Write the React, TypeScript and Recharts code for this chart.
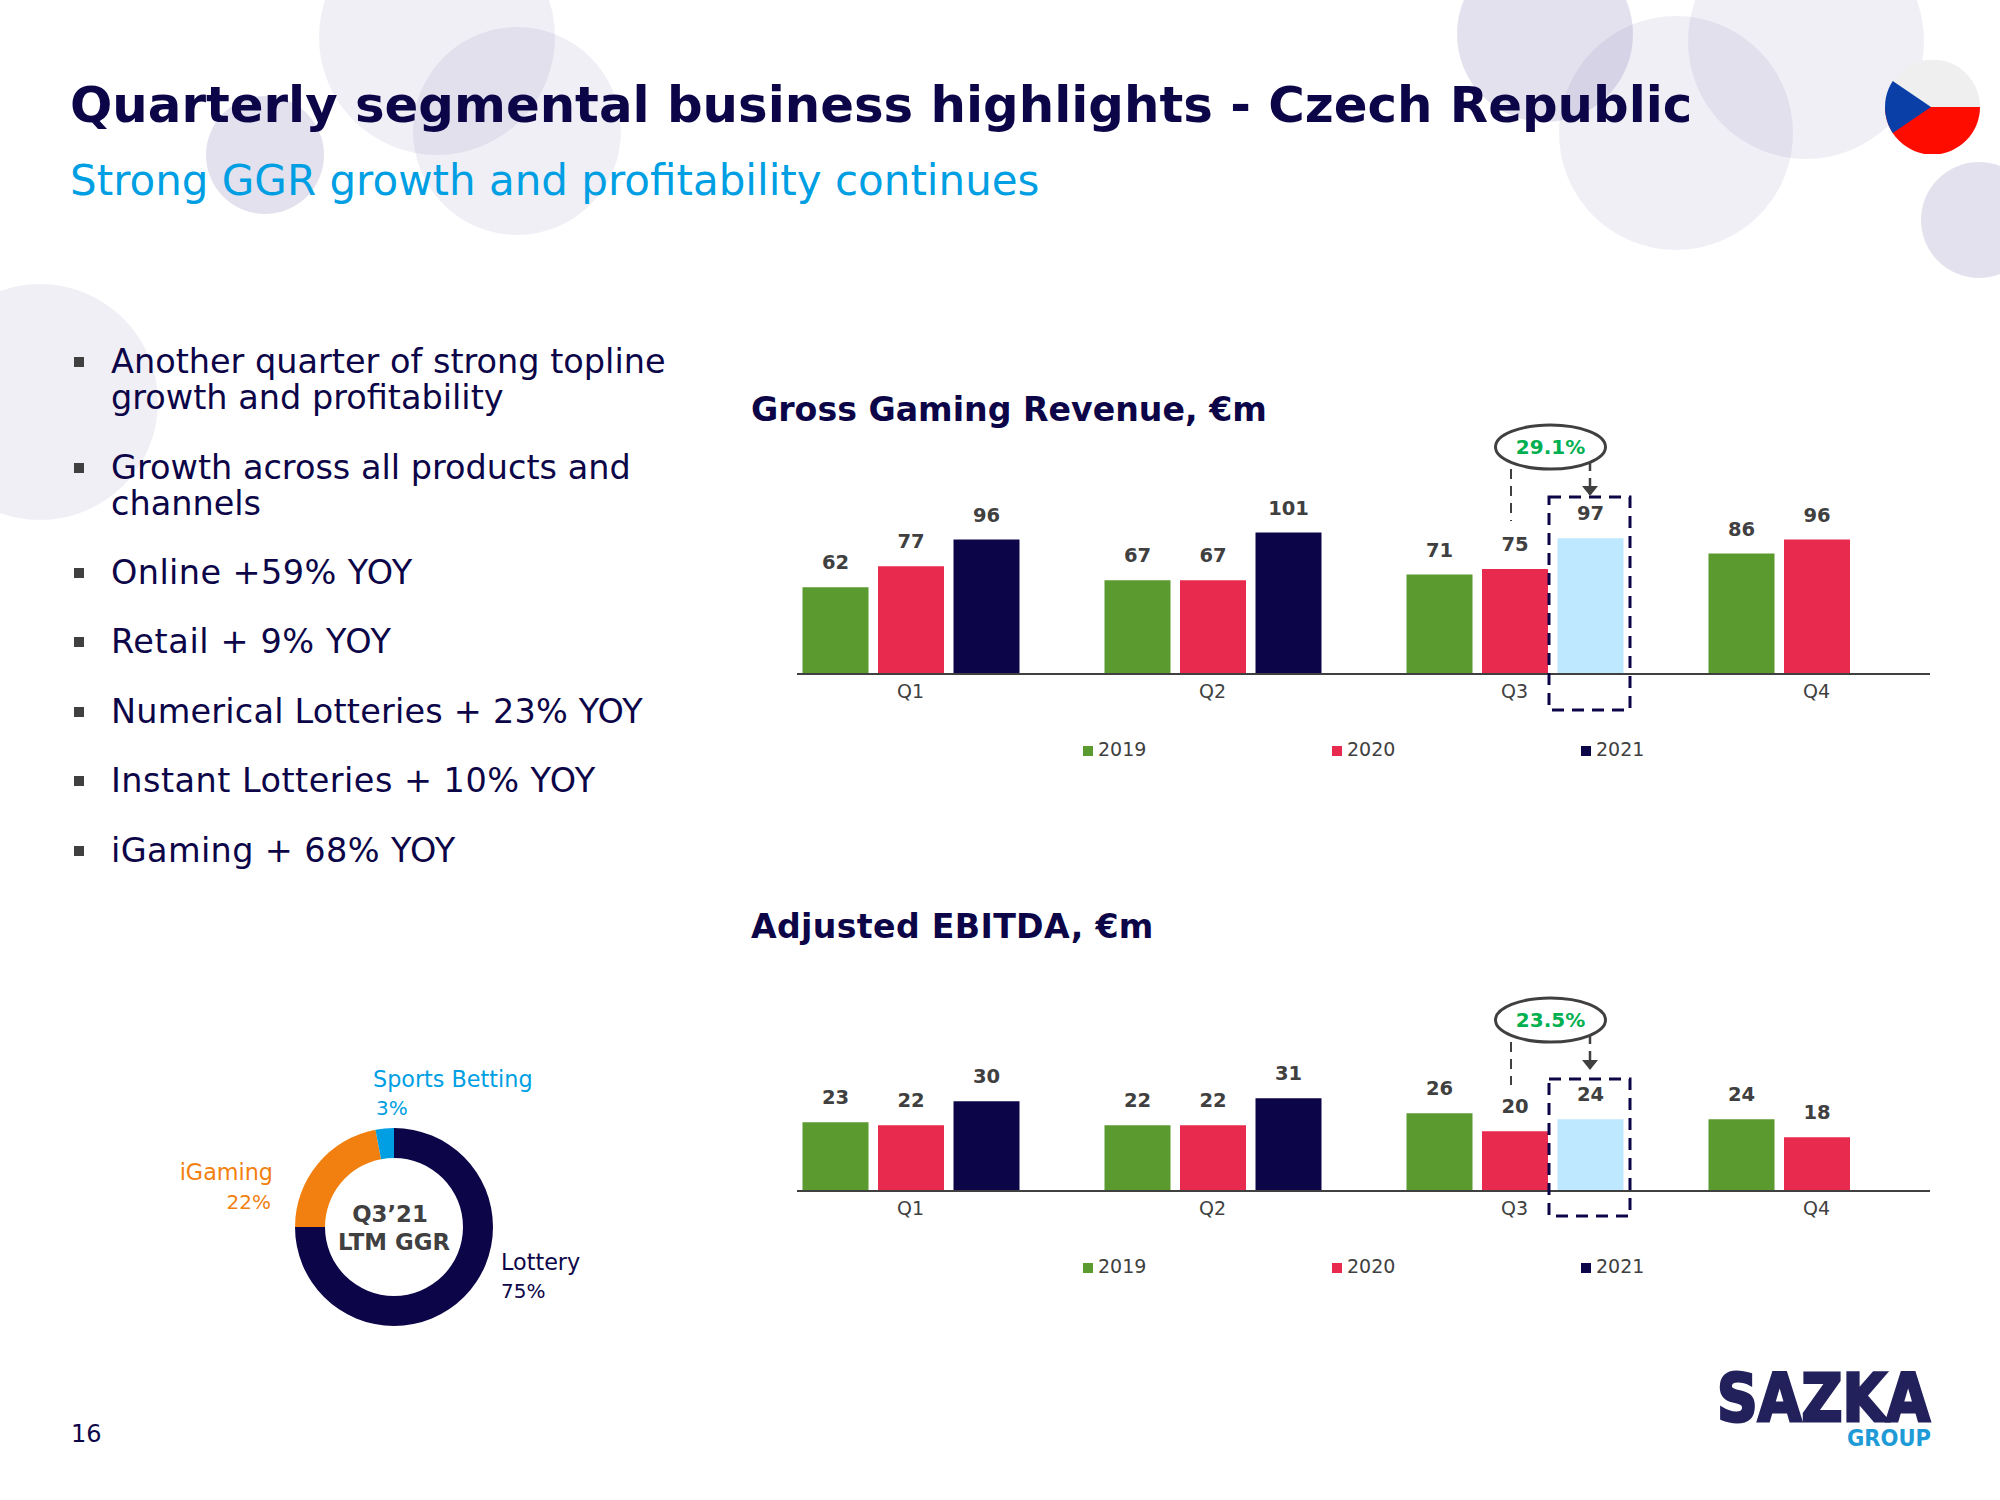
import { BarChart, Bar, Cell, LabelList, Legend, PieChart, Pie, XAxis, YAxis } from "recharts";

const quarters = ["Q1", "Q2", "Q3", "Q4"];
const years = ["2019", "2020", "2021"];

const ggr2019 = [62, 67, 71, 86];
const ggr2020 = [77, 67, 75, 96];
const ggr2021 = [96, 101, 97, null];

const ebitda2019 = [23, 22, 26, 24];
const ebitda2020 = [22, 22, 20, 18];
const ebitda2021 = [30, 31, 24, null];

const mixNames = ["Lottery", "iGaming", "Sports Betting"];
const mixValues = [75, 22, 3];

const bullets = [
  "Another quarter of strong topline",
  "growth and profitability",
  "Growth across all products and",
  "channels",
  "Online +59% YOY",
  "Retail + 9% YOY",
  "Numerical Lotteries + 23% YOY",
  "Instant Lotteries + 10% YOY",
  "iGaming + 68% YOY",
];
const bulletY = [362, 398, 468, 504, 573, 642, 712, 781, 851];
const bulletMarks = [true, false, true, false, true, true, true, true, true];
// caps and digits run wider in the original face
const bulletTrack = [0, 0, 0, 0, 0.4, 0.6, 0.2, 0.47, 0.37];

const NAVY = "#0C0648";
const GREEN = "#5A9A2F";
const RED = "#E82A4E";
const SKY = "#BDE8FF";
const BLUE = "#009FE3";
const ORANGE = "#F28010";
const GREY = "#404040";
const TINT = "#44378F";
const FONT = "'DejaVu Sans', Verdana, sans-serif";

const toRows = (a: (number | null)[], b: (number | null)[], c: (number | null)[]) =>
  quarters.map((q, i) => ({ q, y2019: a[i], y2020: b[i], y2021: c[i] }));

const ggrRows = toRows(ggr2019, ggr2020, ggr2021);
const ebitdaRows = toRows(ebitda2019, ebitda2020, ebitda2021);
const mixRows = mixNames.map((name, i) => ({ name, value: mixValues[i] }));
const mixColors = [NAVY, ORANGE, BLUE];

// legend items sit on a wide fixed pitch, not what the default legend does
const renderLegend = (props: any) => (
  <div style={{ position: "relative", width: 1133, height: 60, fontFamily: FONT, fontSize: 19, color: GREY }}>
    {(props.payload || []).map((p: any, i: number) => (
      <div key={p.value} style={{ position: "absolute", left: 286 + i * 249, top: 35, lineHeight: "20px", whiteSpace: "nowrap" }}>
        <span style={{ display: "inline-block", width: 10, height: 10, background: p.color, marginRight: 5 }} />
        {p.value}
      </div>
    ))}
  </div>
);

function QuarterChart({ rows, top, plotHeight, max }: { rows: any[]; top: number; plotHeight: number; max: number }) {
  const labelStyle = { fontFamily: FONT, fontSize: 19.5, fontWeight: 700, fill: GREY };
  return (
    <div style={{ position: "absolute", left: 797, top }}>
      <BarChart
        width={1133}
        height={plotHeight + 90}
        data={rows}
        barSize={66}
        barGap={9.5}
        margin={{ top: 0, right: 0, bottom: 0, left: 0 }}
      >
        <XAxis
          dataKey="q"
          height={30}
          padding={{ left: -37.5, right: -37.5 }}
          tickLine={false}
          tickMargin={5}
          axisLine={{ stroke: GREY, strokeWidth: 2 }}
          tick={{ fontFamily: FONT, fontSize: 19, fill: GREY }}
          interval={0}
        />
        <YAxis hide domain={[0, max]} />
        <Legend content={renderLegend} height={60} width={1133} align="left" verticalAlign="bottom" wrapperStyle={{ left: 0 }} />
        <Bar dataKey="y2019" name={years[0]} fill={GREEN} isAnimationActive={false}>
          <LabelList position="top" offset={18} style={labelStyle} />
        </Bar>
        <Bar dataKey="y2020" name={years[1]} fill={RED} isAnimationActive={false}>
          <LabelList position="top" offset={18} style={labelStyle} />
        </Bar>
        <Bar dataKey="y2021" name={years[2]} fill={NAVY} isAnimationActive={false}>
          {rows.map((r) => (
            <Cell key={r.q} fill={r.q === "Q3" ? SKY : NAVY} />
          ))}
          <LabelList position="top" offset={18} style={labelStyle} />
        </Bar>
      </BarChart>
    </div>
  );
}

function Txt({ x, y, size, color, bold, right, center, track, children }: any) {
  const tx = center ? "-50%" : right ? "-100%" : "0";
  return (
    <div
      style={{
        position: "absolute",
        left: x,
        top: y,
        transform: `translate(${tx}, -50%)`,
        fontFamily: FONT,
        fontSize: size,
        fontWeight: bold ? 700 : 400,
        letterSpacing: track || 0,
        color,
        lineHeight: 1,
        whiteSpace: "nowrap",
      }}
    >
      {children}
    </div>
  );
}

// dashed highlight box + growth bubble over the Q3 2021 bar
function Callout({ cy, boxTop, boxBottom, leftEnd, arrowTip }: any) {
  return (
    <>
      <rect x={1549} y={boxTop} width={81} height={boxBottom - boxTop} fill="none" stroke={NAVY} strokeWidth={3} strokeDasharray="12 8" />
      <line x1={1511} y1={cy + 22} x2={1511} y2={leftEnd} stroke={GREY} strokeWidth={2} strokeDasharray="10 7" />
      <line x1={1590} y1={cy + 16} x2={1590} y2={cy + 24} stroke={GREY} strokeWidth={2.5} />
      <line x1={1590} y1={cy + 31} x2={1590} y2={arrowTip - 9} stroke={GREY} strokeWidth={2.5} />
      <polygon points={`1582,${arrowTip - 10} 1598,${arrowTip - 10} 1590,${arrowTip}`} fill={GREY} />
      <ellipse cx={1550.5} cy={cy} rx={55} ry={22} fill="#fff" stroke={GREY} strokeWidth={3} />
    </>
  );
}

export default function App() {
  return (
    <div style={{ position: "absolute", left: 0, top: 0, width: 2000, height: 1500, background: "#fff", overflow: "hidden" }}>
      <svg width={2000} height={1500} style={{ position: "absolute", left: 0, top: 0 }}>
        <defs>
          <clipPath id="flag">
            <circle cx={1932.5} cy={107} r={47.5} />
          </clipPath>
        </defs>
        <circle cx={437} cy={37} r={118} fill={TINT} fillOpacity={0.08} />
        <circle cx={517} cy={131} r={104} fill={TINT} fillOpacity={0.08} />
        <circle cx={265} cy={155} r={59} fill={TINT} fillOpacity={0.15} />
        <circle cx={1545} cy={34} r={88} fill={TINT} fillOpacity={0.15} />
        <circle cx={1676} cy={133} r={117} fill={TINT} fillOpacity={0.08} />
        <circle cx={1806} cy={41} r={118} fill={TINT} fillOpacity={0.08} />
        <circle cx={1979} cy={220} r={58} fill={TINT} fillOpacity={0.15} />
        <circle cx={40} cy={402} r={118} fill={TINT} fillOpacity={0.08} />
        <g clipPath="url(#flag)">
          <rect x={1885} y={60} width={95} height={47} fill="#EFEFEF" />
          <rect x={1885} y={107} width={95} height={47} fill="#FF0C00" />
          <polygon points="1878,71 1931,107 1878,143" fill="#0B3FA8" />
        </g>
      </svg>

      <Txt x={70} y={106} size={49.8} color={NAVY} bold>Quarterly segmental business highlights - Czech Republic</Txt>
      <Txt x={70} y={181} size={42} color={BLUE}>Strong GGR growth and profitability continues</Txt>

      {bullets.map((b, i) => (
        <div key={b}>
          {bulletMarks[i] && <div style={{ position: "absolute", left: 74, top: bulletY[i] - 5, width: 10, height: 10, background: GREY }} />}
          <Txt x={111} y={bulletY[i]} size={33.5} color={NAVY} track={bulletTrack[i]}>{b}</Txt>
        </div>
      ))}

      <Txt x={751} y={410} size={33.2} color={NAVY} bold>Gross Gaming Revenue, €m</Txt>
      <Txt x={751} y={927} size={33.2} color={NAVY} bold track={0.33}>Adjusted EBITDA, €m</Txt>

      <QuarterChart rows={ggrRows} top={478} plotHeight={196} max={140} />
      <QuarterChart rows={ebitdaRows} top={1013} plotHeight={178} max={59.5} />

      <svg width={2000} height={1500} style={{ position: "absolute", left: 0, top: 0, pointerEvents: "none" }}>
        <Callout cy={447} boxTop={497} boxBottom={710} leftEnd={521} arrowTip={496} />
        <Callout cy={1020} boxTop={1079} boxBottom={1216} leftEnd={1085} arrowTip={1070} />
        <text x={1717} y={1421} fontFamily={FONT} fontWeight={700} fontSize={66} textLength={213} lengthAdjust="spacingAndGlyphs" fill="#22215B" stroke="#22215B" strokeWidth={3}>SAZKA</text>
        <text x={1847} y={1446} fontFamily={FONT} fontWeight={700} fontSize={23} textLength={84} lengthAdjust="spacingAndGlyphs" fill="#1E9BD7">GROUP</text>
      </svg>
      <Txt x={1550.5} y={447} size={20} color="#00B050" bold center>29.1%</Txt>
      <Txt x={1550.5} y={1020} size={20} color="#00B050" bold center>23.5%</Txt>

      <div style={{ position: "absolute", left: 286, top: 1118 }}>
        <PieChart width={216} height={218} margin={{ top: 0, right: 0, bottom: 0, left: 0 }}>
          <Pie
            data={mixRows}
            dataKey="value"
            nameKey="name"
            cx={108}
            cy={109}
            innerRadius={69}
            outerRadius={99}
            startAngle={90}
            endAngle={-270}
            stroke="none"
            isAnimationActive={false}
          >
            {mixRows.map((r, i) => (
              <Cell key={r.name} fill={mixColors[i]} />
            ))}
          </Pie>
        </PieChart>
      </div>
      <Txt x={390} y={1214} size={22.8} color={GREY} bold center>Q3’21</Txt>
      <Txt x={394} y={1242} size={22.8} color={GREY} bold center>LTM GGR</Txt>
      <Txt x={373} y={1079} size={22.3} color={BLUE}>{mixNames[2]}</Txt>
      <Txt x={376} y={1108} size={20} color={BLUE}>{mixValues[2]}%</Txt>
      <Txt x={273} y={1172} size={22.3} color={ORANGE} right>{mixNames[1]}</Txt>
      <Txt x={271} y={1202} size={20} color={ORANGE} right>{mixValues[1]}%</Txt>
      <Txt x={501} y={1262} size={22.3} color={NAVY}>{mixNames[0]}</Txt>
      <Txt x={501} y={1291} size={20} color={NAVY}>{mixValues[0]}%</Txt>

      <Txt x={71} y={1434} size={24} color={NAVY}>16</Txt>
    </div>
  );
}
